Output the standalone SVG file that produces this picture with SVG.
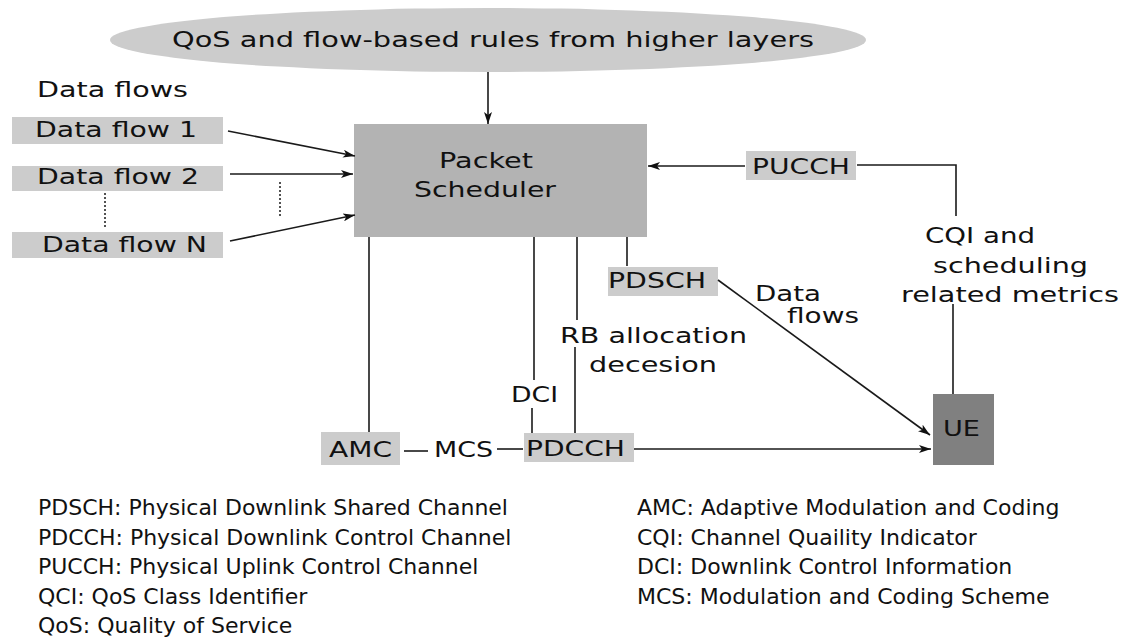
<svg xmlns="http://www.w3.org/2000/svg" width="1126" height="637" viewBox="0 0 1126 637">
<style>
text{font-family:"DejaVu Sans","Verdana",sans-serif;font-size:22px;fill:#111}
.box{fill:#cccccc}
.ln{stroke:#1a1a1a;stroke-width:1.6;fill:none}
.dot{stroke:#1a1a1a;stroke-width:1.5;fill:none;stroke-dasharray:2,2}
.arr{marker-end:url(#ah)}
</style>
<defs>
<marker id="ah" viewBox="0 0 12 8" refX="12" refY="4" markerWidth="13" markerHeight="8" markerUnits="userSpaceOnUse" orient="auto">
<path d="M0,0 L12,4 L0,8 L3,4 z" fill="#111"/>
</marker>
</defs>
<rect width="1126" height="637" fill="#ffffff"/>

<g id="qos-rules">
<ellipse cx="488" cy="40" rx="378" ry="32" fill="#cccccc"/>
<text x="172" y="47" textLength="642" lengthAdjust="spacingAndGlyphs">QoS and flow-based rules from higher layers</text>
</g>

<g id="data-flows-label">
<text x="37" y="97" textLength="151" lengthAdjust="spacingAndGlyphs">Data flows</text>
</g>
<g id="data-flow-1">
<rect class="box" x="12" y="117" width="211" height="27"/>
<text x="35" y="137" textLength="162" lengthAdjust="spacingAndGlyphs">Data flow 1</text>
</g>
<g id="data-flow-2">
<rect class="box" x="12" y="166" width="211" height="25"/>
<text x="37" y="184" textLength="162" lengthAdjust="spacingAndGlyphs">Data flow 2</text>
</g>
<g id="data-flow-n">
<rect class="box" x="12" y="232" width="211" height="26"/>
<text x="42" y="252" textLength="165" lengthAdjust="spacingAndGlyphs">Data flow N</text>
</g>

<g id="packet-scheduler">
<rect x="354" y="124" width="293" height="113" fill="#b3b3b3"/>
<text x="439" y="168" textLength="94" lengthAdjust="spacingAndGlyphs">Packet</text>
<text x="414" y="197" textLength="142" lengthAdjust="spacingAndGlyphs">Scheduler</text>
</g>

<g id="pucch">
<rect class="box" x="746" y="151" width="110" height="29"/>
<text x="752" y="174" textLength="98" lengthAdjust="spacingAndGlyphs">PUCCH</text>
</g>

<g id="pdsch">
<rect class="box" x="608" y="267" width="110" height="29"/>
<text x="608" y="288" textLength="98" lengthAdjust="spacingAndGlyphs">PDSCH</text>
</g>

<g id="amc">
<rect class="box" x="321" y="432" width="79" height="33"/>
<text x="329" y="457" textLength="63" lengthAdjust="spacingAndGlyphs">AMC</text>
</g>

<g id="pdcch">
<rect class="box" x="524" y="433" width="110" height="29"/>
<text x="526" y="456" textLength="99" lengthAdjust="spacingAndGlyphs">PDCCH</text>
</g>

<g id="ue">
<rect x="933" y="394" width="61" height="71" fill="#808080"/>
<text x="943" y="436" textLength="37" lengthAdjust="spacingAndGlyphs">UE</text>
</g>

<g id="connectors">
<path class="ln arr" d="M488,72 L488,124"/>
<path class="ln arr" d="M228,131 L355,156"/>
<path class="ln arr" d="M230,174 L353,174"/>
<path class="ln arr" d="M230,241 L355,215"/>
<path class="dot" d="M105,193 V228"/>
<path class="dot" d="M280,182 V217"/>
<path class="ln arr" d="M745,166 H648"/>
<path class="ln" d="M857,165 H956 V216"/>
<path class="ln" d="M953,304 V394"/>
<path class="ln" d="M369,237 V432"/>
<path class="ln" d="M534,237 V380"/>
<path class="ln" d="M532,408 V433"/>
<path class="ln" d="M577,237 V320"/>
<path class="ln" d="M575,347 V433"/>
<path class="ln" d="M627,237 V266"/>
<path class="ln arr" d="M718,280 L930,435"/>
<path class="ln" d="M404,451 H428"/>
<path class="ln" d="M497,449 H523"/>
<path class="ln arr" d="M634,449 H931"/>
</g>

<g id="connector-labels">
<text x="755" y="301" textLength="66" lengthAdjust="spacingAndGlyphs">Data</text>
<text x="787" y="323" textLength="72" lengthAdjust="spacingAndGlyphs">flows</text>
<text x="925" y="243" textLength="110" lengthAdjust="spacingAndGlyphs">CQI and</text>
<text x="933" y="273" textLength="155" lengthAdjust="spacingAndGlyphs">scheduling</text>
<text x="901" y="302" textLength="218" lengthAdjust="spacingAndGlyphs">related metrics</text>
<text x="560" y="343" textLength="187" lengthAdjust="spacingAndGlyphs">RB allocation</text>
<text x="589" y="372" textLength="128" lengthAdjust="spacingAndGlyphs">decesion</text>
<text x="511" y="402" textLength="47" lengthAdjust="spacingAndGlyphs">DCI</text>
<text x="434" y="457" textLength="59" lengthAdjust="spacingAndGlyphs">MCS</text>
</g>

<g id="legend">
<text x="38" y="515">PDSCH: Physical Downlink Shared Channel</text>
<text x="38" y="545">PDCCH: Physical Downlink Control Channel</text>
<text x="38" y="574">PUCCH: Physical Uplink Control Channel</text>
<text x="38" y="604">QCI: QoS Class Identifier</text>
<text x="38" y="633">QoS: Quality of Service</text>
<text x="637" y="515">AMC: Adaptive Modulation and Coding</text>
<text x="637" y="545">CQI: Channel Quaility Indicator</text>
<text x="637" y="574">DCI: Downlink Control Information</text>
<text x="637" y="604">MCS: Modulation and Coding Scheme</text>
</g>
</svg>
